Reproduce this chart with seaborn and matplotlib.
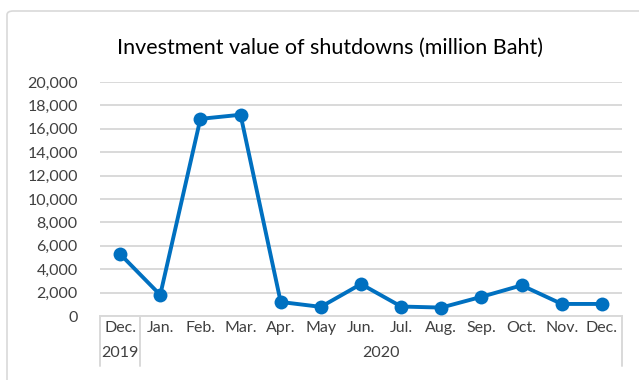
import matplotlib
matplotlib.use("Agg")
import matplotlib.pyplot as plt
import matplotlib.transforms as mtransforms
from matplotlib.patches import FancyBboxPatch
import seaborn as sns
import pandas as pd

months = ["Dec.", "Jan.", "Feb.", "Mar.", "Apr.", "May", "Jun.", "Jul.", "Aug.", "Sep.", "Oct.", "Nov.", "Dec."]
years = ["2019", "2020"]
year_counts = [1, 12]
values = [5300, 1800, 16850, 17200, 1200, 780, 2730, 810, 720, 1640, 2620, 1030, 1030]
yticks = [0, 2000, 4000, 6000, 8000, 10000, 12000, 14000, 16000, 18000, 20000]
title = "Investment value of shutdowns (million Baht)"

sns.set_theme(style="white")
plt.rcParams["font.family"] = ["Lato", "DejaVu Sans"]

df = pd.DataFrame({"idx": range(len(months)), "value": values})

fig = plt.figure(figsize=(6.39, 3.80), dpi=100)
ax = fig.add_axes([100 / 639, 1 - 316 / 380, 522 / 639, 234 / 380])

border = FancyBboxPatch((7 / 639, -0.1), 1.2, 1 - 11 / 380 + 0.1,
                        boxstyle="round,pad=0,rounding_size=0.01",
                        transform=fig.transFigure, facecolor="white",
                        edgecolor="#d9d9d9", linewidth=1.2, zorder=-10)
fig.patches.append(border)

sns.lineplot(data=df, x="idx", y="value", ax=ax, color="#0070C0", linewidth=2.8,
             marker="o", markersize=10, markeredgewidth=0, zorder=5)

ax.set_xlim(-0.5, len(months) - 0.5)
ax.set_ylim(0, 20000)
ax.set_yticks(yticks)
ax.set_yticklabels([f"{v:,}" for v in yticks], fontsize=11.5, color="#404040")
ax.tick_params(axis="y", length=0, pad=16)
ax.set_xticks([])
ax.set_xlabel("")
ax.set_ylabel("")
ax.grid(axis="y", color="#d9d9d9", linewidth=1.4)
ax.set_axisbelow(True)
for s in ["top", "right", "left"]:
    ax.spines[s].set_visible(False)
ax.spines["bottom"].set_color("#d9d9d9")
ax.spines["bottom"].set_linewidth(1.4)
ax.patch.set_alpha(0)

trans = mtransforms.blended_transform_factory(ax.transData, ax.transAxes)
px = 1 / 234
for i, m in enumerate(months):
    ax.text(i, -12 * px, m, transform=trans, ha="center", va="center",
            fontsize=11.5, color="#404040")

start = 0
bounds = [-0.5]
for y, c in zip(years, year_counts):
    center = start + (c - 1) / 2
    ax.text(center, -37 * px, y, transform=trans, ha="center", va="center",
            fontsize=11.5, color="#404040")
    start += c
    bounds.append(start - 0.5)
for b in bounds:
    ax.plot([b, b], [0, -50 * px], transform=trans, color="#d9d9d9",
            linewidth=1.4, clip_on=False)

fig.text(330 / 639, 1 - 48 / 380, title, ha="center", va="center",
         fontsize=15.5, color="#000000")

fig.savefig("out.png", dpi=100)
